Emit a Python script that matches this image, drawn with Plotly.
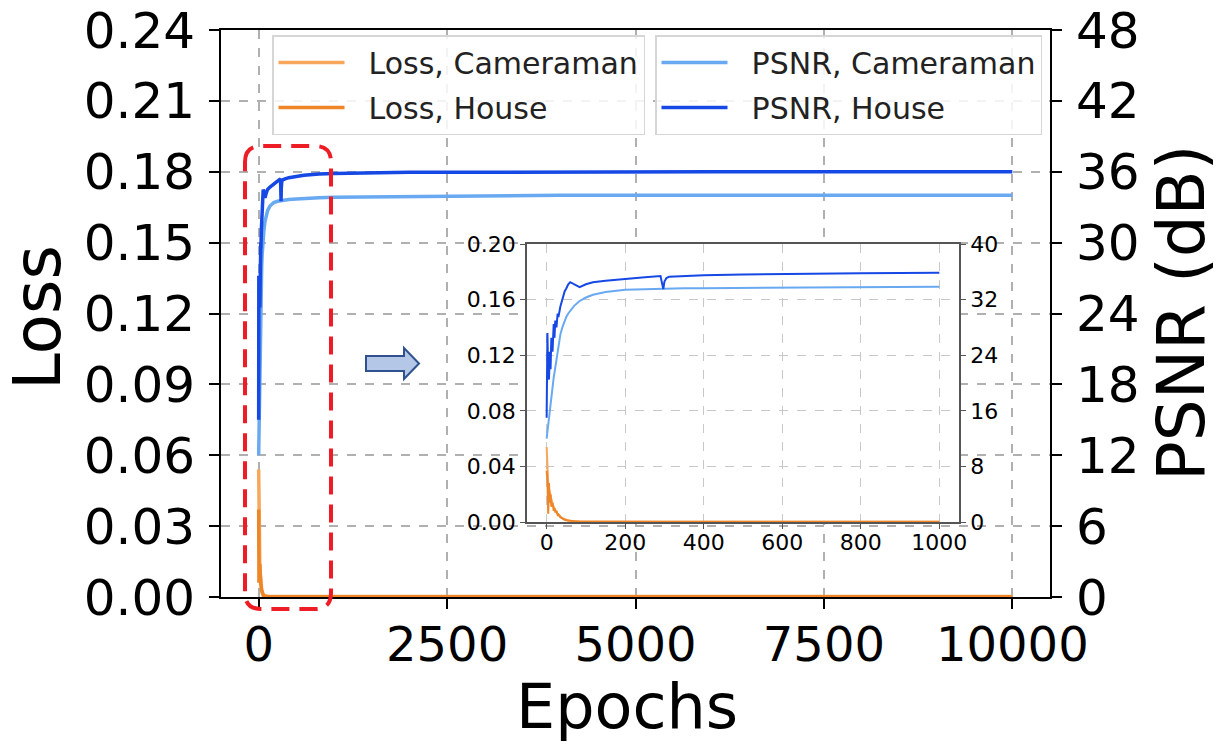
import plotly.graph_objects as go

# ---------------- data ----------------
epochs = [0, 2, 4, 6, 8, 10, 12, 15, 18, 20, 22, 25, 28, 30, 35, 40, 46, 50, 55, 60,
          70, 84, 100, 118, 150, 200, 250, 290, 294, 297, 300, 305, 312, 350, 400, 500,
          600, 800, 1000, 2000, 4000, 6000, 8000, 10000]

loss_cameraman = [0.054, 0.036, 0.028, 0.024, 0.021, 0.018, 0.016, 0.013, 0.011, 0.0095,
                  0.0085, 0.007, 0.006, 0.0052, 0.0038, 0.0028, 0.0019, 0.0015, 0.0011, 0.0009,
                  0.0006, 0.0004, 0.0003, 0.00025, 0.0002, 0.0002, 0.0002, 0.0002, 0.0002, 0.0002,
                  0.0002, 0.0002, 0.0002, 0.0002, 0.0002, 0.0002, 0.0002, 0.0002, 0.0002, 0.0002,
                  0.0002, 0.0002, 0.0002, 0.0002]

loss_house = [0.037, 0.030, 0.006, 0.028, 0.014, 0.020, 0.011, 0.014, 0.008, 0.010,
              0.007, 0.008, 0.005, 0.0055, 0.0035, 0.0025, 0.0016, 0.0012, 0.0009, 0.0007,
              0.0005, 0.0003, 0.0002, 0.00015, 0.0001, 0.0001, 0.0001, 0.0001, 0.0001, 0.0001,
              0.0001, 0.0001, 0.0001, 0.0001, 0.0001, 0.0001, 0.0001, 0.0001, 0.0001, 0.0001,
              0.0001, 0.0001, 0.0001, 0.0001]

psnr_cameraman = [12.0, 13.0, 14.5, 15.5, 16.5, 17.5, 18.5, 19.5, 20.8, 21.5,
                  22.2, 23.3, 24.5, 25.2, 27.0, 28.0, 29.0, 29.5, 30.0, 30.4,
                  31.1, 31.8, 32.3, 32.7, 33.1, 33.4, 33.5, 33.55, 33.55, 33.55,
                  33.6, 33.6, 33.6, 33.62, 33.65, 33.7, 33.75, 33.8, 33.85, 33.9,
                  34.0, 34.0, 34.0, 34.0]

psnr_house = [15.0, 27.2, 21.0, 20.5, 24.5, 22.0, 26.5, 24.5, 28.5, 26.5,
              29.0, 28.0, 30.0, 29.5, 31.0, 32.0, 33.2, 33.6, 34.2, 34.5,
              34.2, 33.8, 34.2, 34.5, 34.7, 35.0, 35.2, 35.4, 34.2, 33.5,
              34.6, 35.1, 35.3, 35.4, 35.5, 35.6, 35.7, 35.8, 35.85, 35.95,
              36.0, 36.0, 36.0, 36.0]

series_names = ["Loss, Cameraman", "Loss, House", "PSNR, Cameraman", "PSNR, House"]
main_x_ticks = [0, 2500, 5000, 7500, 10000]
inset_x_ticks = [0, 200, 400, 600, 800, 1000]
inset_limit = 1000

# ---------------- styling ----------------
C_LOSS_CAM = "#f7a65a"
C_LOSS_HOUSE = "#ee8526"
C_PSNR_CAM = "#68a9f2"
C_PSNR_HOUSE = "#1548e4"
FONT = "DejaVu Sans"
GRID = "#b0b0b0"
NB = "\u00a0\u00a0"

W, H = 1220, 747
def px(x):
    return x / W
def py(y):
    return 1 - y / H

fig = go.Figure()

# main plot traces
fig.add_trace(go.Scatter(x=epochs, y=loss_cameraman, name=NB + series_names[0], mode="lines",
                         line=dict(color=C_LOSS_CAM, width=3.5), xaxis="x", yaxis="y",
                         legend="legend", legendgroup="a"))
fig.add_trace(go.Scatter(x=epochs, y=loss_house, name=NB + series_names[1], mode="lines",
                         line=dict(color=C_LOSS_HOUSE, width=3.5), xaxis="x", yaxis="y",
                         legend="legend", legendgroup="b"))
fig.add_trace(go.Scatter(x=epochs, y=psnr_cameraman, name=NB + series_names[2], mode="lines",
                         line=dict(color=C_PSNR_CAM, width=3.5), xaxis="x", yaxis="y2",
                         legend="legend2", legendgroup="c"))
fig.add_trace(go.Scatter(x=epochs, y=psnr_house, name=NB + series_names[3], mode="lines",
                         line=dict(color=C_PSNR_HOUSE, width=3.5), xaxis="x", yaxis="y2",
                         legend="legend2", legendgroup="d"))

# inset traces
ie = [e for e in epochs if e <= inset_limit]
n = len(ie)
fig.add_trace(go.Scatter(x=ie, y=loss_cameraman[:n], mode="lines", showlegend=False,
                         line=dict(color=C_LOSS_CAM, width=2), xaxis="x3", yaxis="y3"))
fig.add_trace(go.Scatter(x=ie, y=loss_house[:n], mode="lines", showlegend=False,
                         line=dict(color=C_LOSS_HOUSE, width=2), xaxis="x3", yaxis="y3"))
fig.add_trace(go.Scatter(x=ie, y=psnr_cameraman[:n], mode="lines", showlegend=False,
                         line=dict(color=C_PSNR_CAM, width=2), xaxis="x3", yaxis="y4"))
fig.add_trace(go.Scatter(x=ie, y=psnr_house[:n], mode="lines", showlegend=False,
                         line=dict(color=C_PSNR_HOUSE, width=2), xaxis="x3", yaxis="y4"))

big_tick = dict(family=FONT, size=50, color="black")
xtick_font = dict(family=FONT, size=48, color="black")
small_tick = dict(family=FONT, size=22, color="black")

main_axis_common = dict(showline=True, linecolor="black", linewidth=2, ticks="outside",
                        ticklen=10, tickwidth=2, tickcolor="black", zeroline=False,
                        automargin=False)
inset_axis_common = dict(showline=True, linecolor="#555555", linewidth=1.5, ticks="outside",
                         ticklen=5, tickwidth=1.2, tickcolor="#555555", zeroline=False,
                         tickfont=small_tick, automargin=False)

legend_common = dict(xanchor="left", yanchor="top",
                     bgcolor="rgba(255,255,255,0.85)", bordercolor="#d6d6d6", borderwidth=1.5,
                     font=dict(family=FONT, size=30, color="#222222"), itemwidth=66,
                     tracegroupgap=3)

fig.update_layout(
    width=W, height=H,
    margin=dict(l=0, r=0, t=0, b=0, autoexpand=False),
    paper_bgcolor="white", plot_bgcolor="white",
    font=dict(family=FONT, color="black"),
    xaxis=dict(domain=[px(221), px(1050)], range=[-500, 10500], tickvals=main_x_ticks,
               tickformat="d", tickfont=xtick_font,
               showgrid=True, gridcolor=GRID, gridwidth=1.5, griddash="dash", mirror=True,
               anchor="y", ticklabelstandoff=-6, **main_axis_common),
    yaxis=dict(domain=[py(597), py(30)], range=[0, 0.24], dtick=0.03, tickformat=".2f",
               tickfont=big_tick,
               showgrid=True, gridcolor=GRID, gridwidth=1.5, griddash="dash", mirror=True,
               anchor="x", ticklabelstandoff=4, **main_axis_common),
    yaxis2=dict(range=[0, 48], dtick=6, overlaying="y", side="right", anchor="x",
                tickfont=big_tick,
                showgrid=False, ticklabelstandoff=4, **main_axis_common),
    xaxis3=dict(domain=[px(527), px(959)], range=[-50, 1050], tickvals=inset_x_ticks,
                tickformat="d", ticklabelstandoff=-5,
                showgrid=True, gridcolor="#c8c8c8", gridwidth=1, griddash="dash", mirror=True,
                anchor="y3", **inset_axis_common),
    yaxis3=dict(domain=[py(522), py(244)], range=[0, 0.2], dtick=0.04, tickformat=".2f",
                showgrid=True, gridcolor="#c8c8c8", gridwidth=1, griddash="dash", mirror=True,
                anchor="x3", **inset_axis_common),
    yaxis4=dict(range=[0, 40], dtick=8, overlaying="y3", side="right", anchor="x3",
                showgrid=False, **inset_axis_common),
    legend=dict(x=px(272), y=py(35), **legend_common),
    legend2=dict(x=px(655), y=py(35), **legend_common),
    showlegend=True,
)

# axis titles
fig.add_annotation(text="Loss", x=px(37), y=py(318), xref="paper", yref="paper",
                   xanchor="center", yanchor="middle",
                   showarrow=False, textangle=-90, font=dict(family=FONT, size=66, color="black"))
fig.add_annotation(text="PSNR (dB)", x=px(1181), y=py(313), xref="paper", yref="paper",
                   xanchor="center", yanchor="middle",
                   showarrow=False, textangle=-90, font=dict(family=FONT, size=66, color="black"))
fig.add_annotation(text="Epochs", x=px(627), y=py(706), xref="paper", yref="paper",
                   xanchor="center", yanchor="middle",
                   showarrow=False, font=dict(family=FONT, size=62, color="black"))

# red dashed rounded box marking the zoomed region
L, R, T, B, r = 245, 331, 146, 609, 16
box_path = (f"M {px(L)},{py(T + r)} Q {px(L)},{py(T)} {px(L + r)},{py(T)} "
            f"L {px(R - r)},{py(T)} Q {px(R)},{py(T)} {px(R)},{py(T + r)} "
            f"L {px(R)},{py(B - r)} Q {px(R)},{py(B)} {px(R - r)},{py(B)} "
            f"L {px(L + r)},{py(B)} Q {px(L)},{py(B)} {px(L)},{py(B - r)} Z")
fig.add_shape(type="path", path=box_path, xref="paper", yref="paper",
              line=dict(color="#ee1c25", width=4, dash="18px,10px"), layer="above")

# block arrow
pts = [(366, 356), (404, 356), (404, 348), (419, 363.5), (404, 379), (404, 371), (366, 371)]
arrow_path = "M " + " L ".join(f"{px(a)},{py(b)}" for a, b in pts) + " Z"
fig.add_shape(type="path", path=arrow_path, xref="paper", yref="paper",
              fillcolor="#b4c7e7", line=dict(color="#2f528f", width=2), layer="above")

fig.write_html("out.html")
